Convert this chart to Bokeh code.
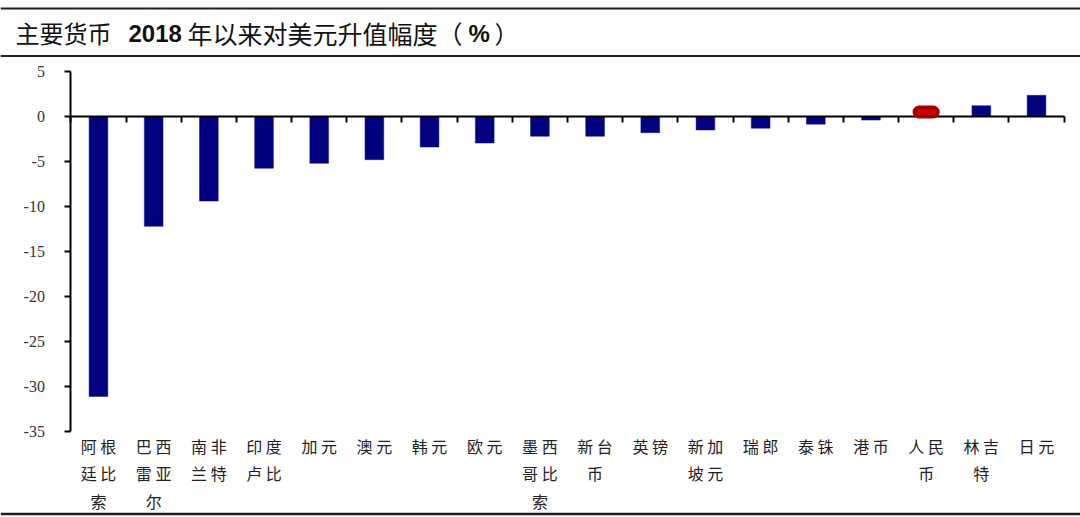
from bokeh.plotting import figure
from bokeh.models import Range1d, FixedTicker, LinearAxis, ColumnDataSource
from bokeh.embed import file_html
from bokeh.resources import INLINE
from bokeh.core.properties import value

# ---------------- data ----------------
currencies = ["阿根廷比索", "巴西雷亚尔", "南非兰特", "印度卢比", "加元", "澳元", "韩元",
              "欧元", "墨西哥比索", "新台币", "英镑", "新加坡元", "瑞郎", "泰铢",
              "港币", "人民币", "林吉特", "日元"]
tick_labels = ["阿 根\n廷 比\n索", "巴 西\n雷 亚\n尔", "南 非\n兰 特", "印 度\n卢 比",
               "加 元", "澳 元", "韩 元", "欧 元", "墨 西\n哥 比\n索", "新 台\n币",
               "英 镑", "新 加\n坡 元", "瑞 郎", "泰 铢", "港 币", "人 民\n币",
               "林 吉\n特", "日 元"]
changes = [-31.1, -12.2, -9.4, -5.75, -5.2, -4.8, -3.4, -2.95, -2.2, -2.2,
           -1.8, -1.5, -1.3, -0.85, -0.4, 1.0, 1.2, 2.35]
highlight = "人民币"
y_ticks = [5, 0, -5, -10, -15, -20, -25, -30, -35]
y_min, y_max = -35, 5
title_parts = ["主要货币", "2018", "年以来对美元升值幅度（", "%", "）"]

# ---------------- layout (pixels) ----------------
W, H = 1080, 517
n = len(currencies)
plot_left, plot_right = 70.4, 1063.6      # pixel extent of the category axis
plot_top, plot_bottom = 71.0, 431.0       # pixel extent of the value axis
ux = (plot_right - plot_left) / n
uy = (plot_bottom - plot_top) / (y_max - y_min)
x_start = -0.5 - plot_left / ux
x_end = -0.5 + (W - plot_left) / ux
y_end = y_max + plot_top / uy
y_start = y_max - (H - plot_top) / uy

p = figure(width=W, height=H, toolbar_location=None, output_backend="svg",
           title=None, x_axis_location=None, y_axis_location=None,
           x_range=Range1d(x_start, x_end), y_range=Range1d(y_start, y_end),
           min_border=0)
p.grid.visible = False
p.outline_line_color = None
p.extra_x_ranges = {"px": Range1d(0, W)}
p.extra_y_ranges = {"px": Range1d(H, 0)}

# ---------------- header rules and title ----------------
RULE = "#1e1e1e"
rules = ColumnDataSource(dict(y=[8, 55.5, 513.5], w=[2, 2, 2.5]))
p.segment(x0=0, x1=W, y0="y", y1="y", line_width="w", line_color=RULE,
          source=rules, x_range_name="px", y_range_name="px")

cjk = value("Noto Sans CJK SC")
lat = value("Liberation Sans")
ty = 32
for xx, txt, font, style, size, dy in [(15, title_parts[0], cjk, "normal", "24px", 0),
                                       (128, title_parts[1], lat, "bold", "24px", 1),
                                       (187, title_parts[2], cjk, "normal", "25px", 0),
                                       (468, title_parts[3], lat, "bold", "24px", 1),
                                       (494, title_parts[4], cjk, "normal", "24px", 0)]:
    p.text(x=[xx], y=[ty + dy], text=[txt], text_font=font, text_font_size=size,
           text_font_style=style, text_baseline="middle", text_align="left",
           text_color="#111111", x_range_name="px", y_range_name="px")

# ---------------- bars ----------------
xs = list(range(n))
normal = [i for i, c in enumerate(currencies) if c != highlight]
hi = [i for i, c in enumerate(currencies) if c == highlight]
src_n = ColumnDataSource(dict(x=[xs[i] for i in normal], top=[changes[i] for i in normal]))
src_h = ColumnDataSource(dict(x=[xs[i] for i in hi], top=[changes[i] for i in hi]))

p.vbar(x="x", top="top", bottom=0, width=0.34, source=src_n,
       fill_color="#000080", line_color="#1a1a8a", line_width=0.5)
r_hi = p.vbar(x="x", top="top", bottom=0, width=0.42, source=src_h,
              fill_color="#c80000", line_color="#a00000", line_width=4, border_radius=6)
r_hi.level = "overlay"

# ---------------- axes ----------------
# category labels at the bottom of the value axis
xa = LinearAxis(fixed_location=y_min, bounds=(-0.5, n - 0.5),
                ticker=FixedTicker(ticks=xs),
                major_label_overrides={i: lab for i, lab in enumerate(tick_labels)},
                axis_line_color=None, major_tick_line_color=None,
                minor_tick_line_color=None,
                major_label_text_font="Noto Sans CJK SC",
                major_label_text_font_size="16px",
                major_label_text_line_height=1.16,
                major_label_text_color="#222222",
                major_label_standoff=-4)
p.add_layout(xa, "below")

# zero line with ticks between categories
za = LinearAxis(fixed_location=0, bounds=(-0.5, n - 0.5),
                ticker=FixedTicker(ticks=[i - 0.5 for i in range(n + 1)]),
                major_label_text_font_size="0px", major_label_text_color=None,
                major_tick_in=6, major_tick_out=0, major_label_standoff=0,
                axis_line_width=2, axis_line_color="black",
                major_tick_line_width=2, major_tick_line_color="black",
                minor_tick_line_color=None)
p.add_layout(za, "above")

# value axis
ya = LinearAxis(fixed_location=-0.5, bounds=(y_min, y_max),
                ticker=FixedTicker(ticks=y_ticks),
                major_label_overrides={t: str(t) for t in y_ticks},
                axis_line_width=2, axis_line_color="black",
                major_tick_line_width=2, major_tick_line_color="black",
                major_tick_out=6, major_tick_in=0, minor_tick_line_color=None,
                major_label_text_font="Liberation Serif",
                major_label_text_font_size="16px",
                major_label_text_color="#333333",
                major_label_standoff=20)
p.add_layout(ya, "left")

open("out.html", "w").write(file_html(p, INLINE))
